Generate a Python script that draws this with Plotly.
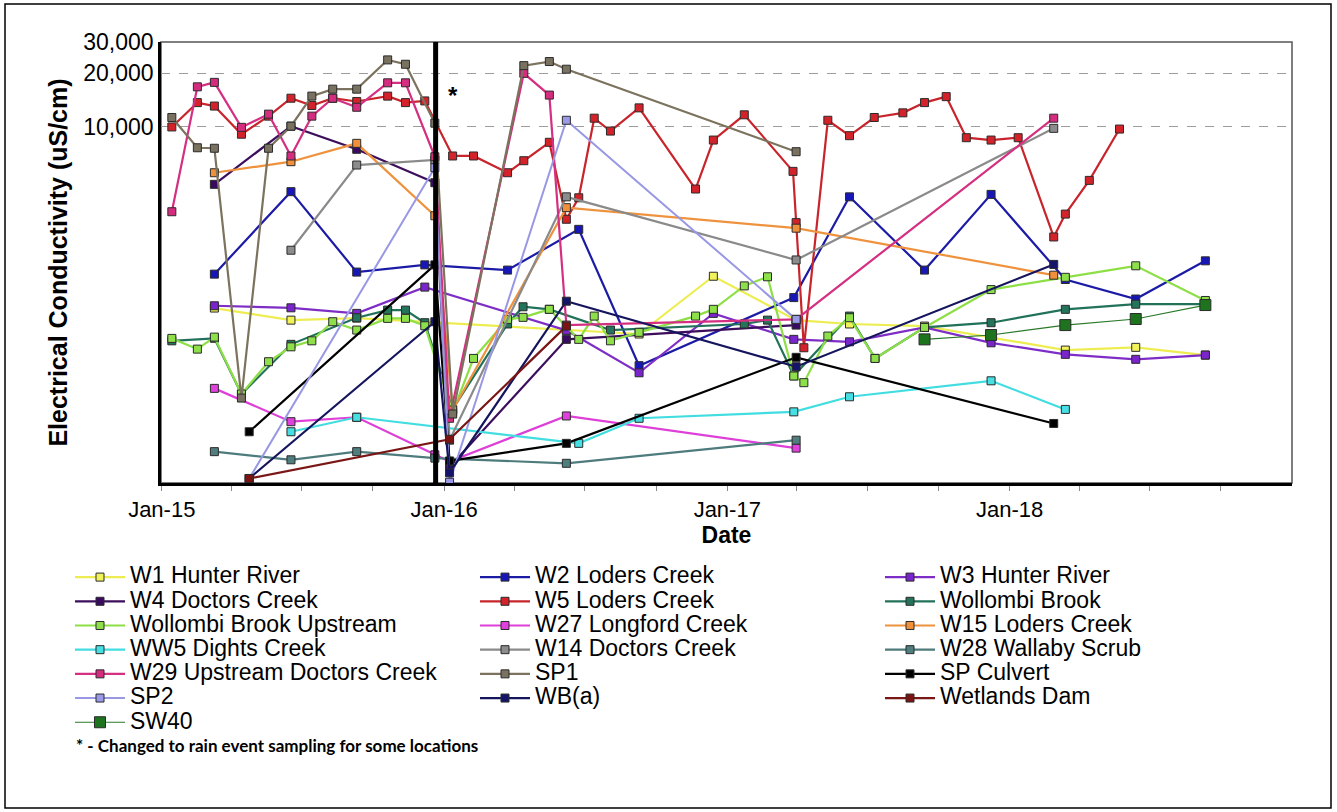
import math
import pandas as pd
import plotly.graph_objects as go

# ---------------------------------------------------------------------------
# Electrical conductivity (uS/cm) by monitoring location
# ---------------------------------------------------------------------------
w1_dates = ["2015-03-10", "2015-06-17", "2015-09-10", "2016-06-07", "2016-09-09", "2016-12-14",
            "2017-03-31", "2017-06-08", "2017-09-13", "2018-03-14", "2018-06-13", "2018-09-11"]
w1_ec = [961, 822, 844, 723, 687, 1450, 822, 782, 761, 558, 578, 523]

w2_dates = ["2015-03-10", "2015-06-17", "2015-09-10", "2015-12-07", "2016-03-23", "2016-06-23",
            "2016-09-09", "2017-03-28", "2017-06-08", "2017-09-13", "2017-12-08", "2018-03-14",
            "2018-06-13", "2018-09-11"]
w2_ec = [1490, 4330, 1530, 1680, 1570, 2660, 456, 1100, 4050, 1570, 4180, 1390, 1080, 1770]

w3_dates = ["2015-03-10", "2015-06-17", "2015-09-10", "2015-12-07", "2016-06-07", "2016-09-09",
            "2016-12-14", "2017-03-28", "2017-06-08", "2017-09-13", "2017-12-08", "2018-03-14",
            "2018-06-13", "2018-09-11"]
w3_ec = [990, 964, 897, 1260, 720, 416, 897, 641, 621, 748, 613, 528, 495, 523]

w4_dates = ["2015-03-10", "2015-06-17", "2015-09-10", "2015-12-20", "2016-01-08", "2016-06-07",
            "2017-03-31"]
w4_ec = [4760, 10100, 7490, 4860, 123, 641, 771]

w5_dates = ["2015-01-14", "2015-02-16", "2015-03-10", "2015-04-14", "2015-05-19", "2015-06-17",
            "2015-07-14", "2015-08-10", "2015-09-10", "2015-10-20", "2015-11-12", "2015-12-07",
            "2016-01-12", "2016-02-08", "2016-03-23", "2016-04-13", "2016-05-16", "2016-06-07",
            "2016-06-23", "2016-07-13", "2016-08-03", "2016-09-09", "2016-11-21", "2016-12-14",
            "2017-01-23", "2017-03-27", "2017-03-31", "2017-04-10", "2017-05-11", "2017-06-08",
            "2017-07-10", "2017-08-16", "2017-09-13", "2017-10-11", "2017-11-06", "2017-12-08",
            "2018-01-12", "2018-02-27", "2018-03-14", "2018-04-14", "2018-05-23"]
w5_ec = [10000, 13700, 13100, 9100, 11500, 14500, 13200, 14500, 13900, 14900, 13700, 14000,
         6870, 6870, 5530, 6460, 8200, 3030, 4000, 11200, 9480, 12800, 4480, 8440,
         11700, 5630, 2900, 575, 10900, 8930, 11300, 12000, 13700, 14800, 8700, 8440,
         8700, 2410, 3240, 5010, 9730]

wollombi_dates = ["2015-01-14", "2015-03-10", "2015-04-14", "2015-06-17", "2015-09-10", "2015-10-20",
                  "2015-11-12", "2015-12-07", "2016-01-12", "2016-03-23", "2016-04-12", "2016-05-16",
                  "2016-08-03", "2017-01-23", "2017-02-22", "2017-03-28", "2017-06-08", "2017-07-11",
                  "2017-09-13", "2017-12-08", "2018-03-14", "2018-06-13", "2018-09-11"]
wollombi_ec = [629, 650, 316, 601, 848, 936, 936, 795, 260, 782, 977, 945,
               723, 782, 822, 400, 866, 501, 748, 795, 945, 1010, 1010]

wollombi_up_dates = ["2015-01-14", "2015-02-16", "2015-03-10", "2015-04-14", "2015-05-19", "2015-06-17",
                     "2015-07-14", "2015-08-10", "2015-09-10", "2015-10-20", "2015-11-12", "2015-12-07",
                     "2016-01-12", "2016-02-08", "2016-03-23", "2016-04-12", "2016-05-16", "2016-06-23",
                     "2016-07-13", "2016-08-03", "2016-09-09", "2016-11-21", "2016-12-14",
                     "2017-01-23", "2017-02-22", "2017-03-28", "2017-04-10", "2017-05-11", "2017-06-08",
                     "2017-07-11", "2017-09-13", "2017-12-08",
                     "2018-03-14", "2018-06-13", "2018-09-11"]
wollombi_up_ec = [649, 565, 660, 316, 480, 582, 629, 805, 723, 841, 841, 764,
                  250, 501, 830, 852, 945, 641, 866, 629, 702, 866, 945,
                  1280, 1440, 399, 366, 669, 848, 501, 748, 1220,
                  1430, 1660, 1060]

w27_dates = ["2015-03-10", "2015-06-17", "2015-09-10", "2015-12-20", "2016-01-08", "2016-06-07",
             "2017-03-31"]
w27_ec = [340, 221, 234, 144, 132, 238, 157]

w15_dates = ["2015-03-10", "2015-06-17", "2015-09-10", "2015-12-20", "2016-01-12", "2016-06-07",
             "2017-03-31", "2018-02-27"]
w15_ec = [5530, 6380, 8090, 3170, 257, 3520, 2700, 1470]

ww5_dates = ["2015-06-17", "2015-09-10", "2016-06-23", "2016-09-09", "2017-03-28", "2017-06-08",
             "2017-12-08", "2018-03-14"]
ww5_ec = [194, 234, 167, 231, 251, 305, 375, 259]

w14_dates = ["2015-06-17", "2015-09-10", "2015-12-20", "2016-01-08", "2016-06-07", "2017-03-31",
             "2018-02-27"]
w14_ec = [2030, 6110, 6520, 174, 4050, 1790, 9820]

w28_dates = ["2015-03-10", "2015-06-17", "2015-09-10", "2015-12-20", "2016-06-07", "2017-03-31"]
w28_ec = [150, 135, 150, 138, 129, 174]

w29_dates = ["2015-01-14", "2015-02-16", "2015-03-10", "2015-04-14", "2015-05-19", "2015-06-17",
             "2015-07-14", "2015-08-10", "2015-09-10", "2015-10-20", "2015-11-12", "2015-12-20",
             "2016-01-08", "2016-04-13", "2016-05-16", "2016-06-07", "2017-03-31", "2018-02-27"]
w29_ec = [3340, 16800, 17800, 9950, 11800, 6870, 11500, 14500, 12900, 17700, 17700, 6800,
          231, 20000, 15100, 771, 830, 11200]

sp1_dates = ["2015-01-14", "2015-02-16", "2015-03-10", "2015-04-14", "2015-05-19", "2015-06-17",
             "2015-07-14", "2015-08-10", "2015-09-10", "2015-10-20", "2015-11-12", "2015-12-20",
             "2016-01-12", "2016-04-13", "2016-05-16", "2016-06-07", "2017-03-31"]
sp1_ec = [11300, 7640, 7590, 300, 7590, 10100, 14900, 16300, 16300, 23800, 22500, 10500,
          244, 22100, 23300, 21100, 7260]

sp_culvert_dates = ["2015-04-24", "2015-12-20", "2016-01-08", "2016-06-07", "2017-03-31", "2018-02-27"]
sp_culvert_ec = [194, 1680, 133, 167, 508, 216]

sp2_dates = ["2015-04-24", "2015-12-20", "2016-01-08", "2016-06-07", "2017-03-31"]
sp2_ec = [106, 5900, 101, 10900, 830]

wba_dates = ["2015-04-24", "2015-12-20", "2016-01-08", "2016-06-07", "2017-03-31", "2018-02-27"]
wba_ec = [106, 805, 114, 1050, 450, 1690]

wetlands_dates = ["2015-04-24", "2016-01-08", "2016-06-07"]
wetlands_ec = [106, 176, 761]

sw40_dates = ["2017-09-13", "2017-12-08", "2018-03-14", "2018-06-13", "2018-09-11"]
sw40_ec = [641, 678, 771, 834, 999]

year_ticks = ["2015-01-01", "2016-01-01", "2017-01-01", "2018-01-01"]
year_labels = ["Jan-15", "Jan-16", "Jan-17", "Jan-18"]
ec_ticks = [10000, 20000, 30000]
ec_labels = ["10,000", "20,000", "30,000"]
rain_event_date = "2015-12-21"

# ---------------------------------------------------------------------------
# series: (legend name, dates, values, line colour, marker fill, line width, marker size)
# ---------------------------------------------------------------------------
series = [
    ("W1 Hunter River", w1_dates, w1_ec, "#EDED52", "#F2F25A", 2.2, 8),
    ("W2 Loders Creek", w2_dates, w2_ec, "#1B1BA6", "#1717B8", 2.2, 8),
    ("W3 Hunter River", w3_dates, w3_ec, "#7E2EC6", "#7A24CC", 2.2, 8),
    ("W4 Doctors Creek", w4_dates, w4_ec, "#3C0E5C", "#3A0A62", 2.2, 8),
    ("W5 Loders Creek", w5_dates, w5_ec, "#C8242B", "#D3222A", 2.2, 8),
    ("Wollombi Brook", wollombi_dates, wollombi_ec, "#22725A", "#23745A", 2.2, 8),
    ("Wollombi Brook Upstream", wollombi_up_dates, wollombi_up_ec, "#8DDF45", "#8EE04A", 2.2, 8),
    ("W27 Longford Creek", w27_dates, w27_ec, "#DE3FD8", "#E040DC", 2.2, 8),
    ("W15 Loders Creek", w15_dates, w15_ec, "#EF923E", "#F0903A", 2.2, 8),
    ("WW5 Dights Creek", ww5_dates, ww5_ec, "#42DDE0", "#46E0E4", 2.2, 8),
    ("W14 Doctors Creek", w14_dates, w14_ec, "#8A8A8A", "#8C8C8C", 2.2, 8),
    ("W28 Wallaby Scrub", w28_dates, w28_ec, "#4E7B7B", "#507E7E", 2.2, 8),
    ("W29 Upstream Doctors Creek", w29_dates, w29_ec, "#D42F80", "#D62C80", 2.2, 8),
    ("SP1", sp1_dates, sp1_ec, "#7C735E", "#7A7260", 2.2, 8),
    ("SP Culvert", sp_culvert_dates, sp_culvert_ec, "#000000", "#000000", 2.2, 8),
    ("SP2", sp2_dates, sp2_ec, "#9898E4", "#9A9AE8", 2.0, 8),
    ("WB(a)", wba_dates, wba_ec, "#15155E", "#14146A", 2.2, 8),
    ("Wetlands Dam", wetlands_dates, wetlands_ec, "#7A1616", "#7C1212", 2.2, 8),
    ("SW40", sw40_dates, sw40_ec, "#2A7A2A", "#1E741E", 1.2, 11),
]

# ---------------------------------------------------------------------------
# page geometry (px) and helpers for placing items in paper coordinates
# ---------------------------------------------------------------------------
FIG_W, FIG_H = 1337, 812
M_L, M_R, M_T, M_B = 161, 45, 42, 329
PLOT_W = FIG_W - M_L - M_R
PLOT_H = FIG_H - M_T - M_B


def paper_x(px):
    return (px - M_L) / PLOT_W


def paper_y(py):
    return (FIG_H - M_B - py) / PLOT_H


FONT = "Liberation Sans, Arial, sans-serif"
LEGEND_TEXT_PX = 23     # drawn size of legend labels
LEGEND_ROW_FONT = 16.3  # legend font size that sets the (tight) row pitch

fig = go.Figure()
for name, dates, values, color, fill, width, size in series:
    fig.add_trace(go.Scatter(
        x=pd.to_datetime(dates), y=values, mode="lines+markers",
        name=f'<span style="font-size:{LEGEND_TEXT_PX}px">{name}</span>',
        line=dict(color=color, width=width),
        marker=dict(symbol="square", size=size, color=fill,
                    line=dict(color="#2b2b2b", width=1)),
    ))

quarters = pd.date_range("2015-01-01", "2018-12-31", freq="QS")

fig.update_layout(
    width=FIG_W, height=FIG_H,
    margin=dict(l=M_L, r=M_R, t=M_T, b=M_B, autoexpand=False),
    paper_bgcolor="white", plot_bgcolor="white",
    font=dict(family=FONT, color="black"),
    showlegend=True,
    legend=dict(
        orientation="h", x=paper_x(70), y=paper_y(560),
        xanchor="left", yanchor="top",
        font=dict(family=FONT, size=LEGEND_ROW_FONT, color="black"),
        itemwidth=50, entrywidth=340, entrywidthmode="pixels",
        traceorder="normal", bgcolor="rgba(0,0,0,0)",
    ),
    xaxis=dict(
        type="date", range=["2014-12-31", "2019-01-01"],
        tickmode="array", tickvals=year_ticks, ticktext=year_labels,
        ticks="outside", ticklen=5, tickcolor="#8a8a8a",
        tickfont=dict(family=FONT, size=22),
        minor=dict(tickmode="array", tickvals=list(quarters), ticks="outside",
                   ticklen=5, tickcolor="#8a8a8a", showgrid=False),
        showline=True, linecolor="black", linewidth=2.5,
        showgrid=False, zeroline=False,
        title=dict(text="Date", font=dict(family=FONT, size=23, weight="bold"), standoff=6),
    ),
    yaxis=dict(
        type="log", range=[2, math.log10(30000)],
        tickmode="array", tickvals=ec_ticks, ticktext=ec_labels,
        ticks="", tickfont=dict(family=FONT, size=23),
        showline=True, linecolor="black", linewidth=2.5,
        showgrid=True, gridcolor="#9c9c9c", griddash="dash", gridwidth=1,
        zeroline=False,
        title=dict(text="Electrical Conductivity (uS/cm)",
                   font=dict(family=FONT, size=25, weight="bold"), standoff=9),
    ),
    shapes=[
        # plot frame
        dict(type="rect", xref="paper", yref="paper", x0=0, x1=1, y0=0, y1=1,
             line=dict(color="#555555", width=1.5), layer="below"),
        # start of rain-event sampling
        dict(type="line", xref="x", yref="paper", x0=rain_event_date, x1=rain_event_date,
             y0=0, y1=1, line=dict(color="black", width=5), layer="above"),
        # outer border of the figure
        dict(type="rect", xref="paper", yref="paper",
             x0=paper_x(5), x1=paper_x(1331), y0=paper_y(808), y1=paper_y(4),
             line=dict(color="black", width=1.5), layer="below"),
    ],
    annotations=[
        dict(text="<b>*</b>", xref="x", yref="paper", x="2016-01-13", y=paper_y(80),
             showarrow=False, font=dict(family=FONT, size=24, color="black")),
        dict(text="<b>* - Changed to rain event sampling for some locations</b>",
             xref="paper", yref="paper", x=paper_x(74), y=paper_y(745),
             xanchor="left", yanchor="middle", showarrow=False,
             font=dict(family="Lato, Open Sans, sans-serif", size=17, color="black")),
    ],
)

fig.write_html("out.html")
